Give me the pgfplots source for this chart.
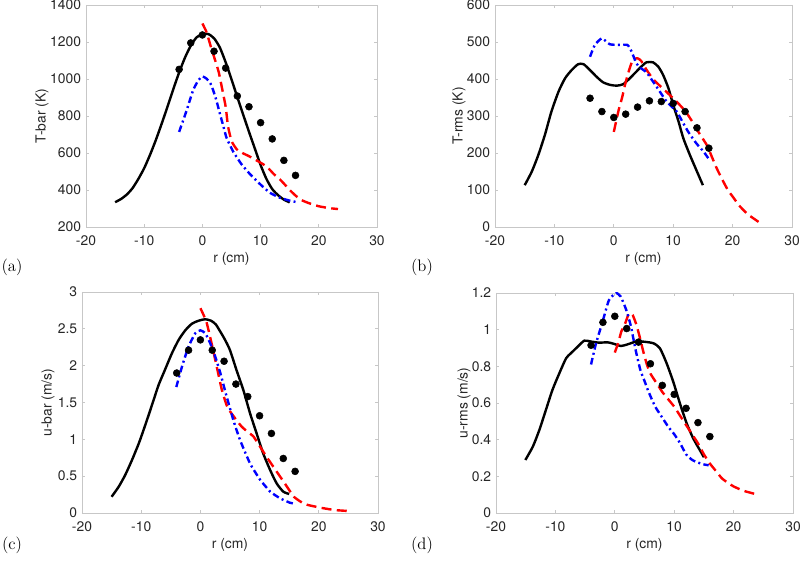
\documentclass[border=0pt]{standalone}
\usepackage{pgfplots}
\pgfplotsset{compat=1.18}
\usepackage{fontspec}
\newfontfamily\hv{TeX Gyre Heros}
\definecolor{axgray}{gray}{0.78}
\definecolor{txtgray}{HTML}{262626}
\pgfplotsset{
  mpanel/.style={
    scale only axis, anchor=south west,
    xmin=-20, xmax=30, xtick={-20,-10,0,10,20,30},
    tick align=inside, major tick length=2.6pt,
    axis line style={axgray, line width=0.5pt},
    tick style={axgray, line width=0.5pt},
    ticklabel style={font=\hv\fontsize{10.4}{12}\selectfont, text=txtgray, inner sep=1pt},
    xticklabel style={yshift=-5pt},
    yticklabel style={xshift=-2.5pt},
    label style={font=\hv\fontsize{10.4}{12}\selectfont, text=txtgray},
    /pgf/number format/assume math mode=true,
    /pgf/number format/1000 sep={},
    xlabel={r (cm)},
    xlabel style={at={(axis description cs:0.5,-0.145)}, anchor=center},
  },
  ylab/.style={ylabel style={at={(axis description cs:#1,0.5)}, anchor=center}},
  sim/.style={black, solid, line width=1.8pt, no marks, smooth, tension=0.4},
  exp/.style={black, only marks, mark=*, mark size=2.6pt},
  les/.style={red, line width=1.8pt, no marks, smooth, tension=0.3, dash pattern=on 7.5pt off 4pt},
  rans/.style={blue, line width=1.8pt, no marks, smooth, tension=0.3, dash pattern=on 5pt off 2.5pt on 1.5pt off 2.5pt},
}
\begin{document}
\begin{tikzpicture}
\useasboundingbox (0,0) rectangle (600pt,424.5pt);

% (a) mean temperature
\begin{axis}[mpanel, at={(64.5pt,254.25pt)}, width=218.25pt, height=166.5pt,
  ymin=200, ymax=1400, ytick={200,400,600,800,1000,1200,1400}, ylabel={T-bar (K)}, ylab=-0.151]
\addplot[sim] coordinates {(-15,334)(-14,351)(-13,375)(-12,410)(-11,460)(-10,518)(-9,590)(-8,670)(-7,758)(-6,850)(-5,945)(-4,1035)(-3,1115)(-2,1180)(-1,1225)(0,1242)(1,1243)(2,1220)(3,1170)(4,1090)(5,998)(6,902)(7,808)(8,715)(9,625)(10,535)(11,460)(12,405)(13,372)(14,348)(15,333)};
\addplot[les] coordinates {(0,1300)(0.7,1254)(1.4,1180)(2,1120)(2.8,1038)(3.5,930)(4,850)(4.4,745)(5,665)(5.9,620)(7,598)(8,583)(9.4,558)(10.5,538)(11.5,512)(12.3,485)(13.3,458)(14.2,428)(15,400)(16,370)(17,346)(18.2,330)(20,312)(21.8,302)(23.3,297)};
\addplot[rans] coordinates {(-4,714)(-2.7,831)(-1.6,939)(-0.7,993)(0,1014)(0.7,1002)(1.4,975)(1.85,939)(2.4,885)(3,813)(3.6,745)(4.15,682)(5.3,607)(6.7,540)(8.2,485)(9.9,432)(11.6,385)(13.4,357)(15.3,340)(16,336)};
\addplot[exp] coordinates {(-4,1052)(-2,1195)(0,1238)(2,1150)(4,1059)(6,908)(8,850)(10,764)(12,676)(14,560)(16,479)};
\end{axis}

% (b) rms temperature
\begin{axis}[mpanel, at={(371.25pt,254.25pt)}, width=222.75pt, height=166.5pt,
  ymin=0, ymax=600, ytick={0,100,200,300,400,500,600}, ylabel={T-rms (K)}, ylab=-0.121]
\addplot[sim] coordinates {(-15,113)(-13.8,150)(-12.7,195)(-11.6,249)(-10.5,312)(-9.3,366)(-8.2,402)(-7.1,424)(-6,440)(-5.1,440)(-4,424)(-2.9,406)(-1.8,391)(-0.6,384)(0.5,382)(1.6,386)(2.7,402)(3.8,420)(4.6,433)(5.5,445)(6.6,445)(7.5,433)(8.3,411)(9.2,375)(10,330)(10.9,285)(11.7,240)(12.8,195)(14,150)(15,113)};
\addplot[les] coordinates {(0,257)(0.8,315)(1.4,350)(1.9,385)(2.5,420)(3.2,452)(4,456)(4.6,449)(5.5,425)(6.7,398)(8,378)(9.4,357)(10.8,335)(12.1,312)(13.2,285)(14.2,258)(15.7,220)(17.2,163)(18.2,130)(19.2,100)(20.2,78)(21.1,58)(22.5,35)(23.9,19)(24.7,10)};
\addplot[rans] coordinates {(-4,460)(-3.2,492)(-2,510)(-0.7,494)(0.8,492)(2.3,492)(3,474)(3.8,442)(4.5,430)(5.5,418)(6.3,400)(7.2,379)(8.9,339)(10.6,312)(11.4,289)(12.5,258)(13.9,226)(15.1,204)(15.9,186)};
\addplot[exp] coordinates {(-4,348)(-2,312)(0,296)(2,305)(4,324)(6,341)(8,339)(10,334)(12,312)(14,268)(16,213)};
\end{axis}

% (c) mean velocity
\begin{axis}[mpanel, at={(61.5pt,39.75pt)}, width=222pt, height=165.75pt,
  ymin=0, ymax=3, ytick={0,0.5,1,1.5,2,2.5,3}, ylabel={u-bar (m/s)}, ylab=-0.115]
\addplot[sim] coordinates {(-15,0.22)(-13.8,0.357)(-12.7,0.516)(-11.55,0.72)(-10.4,0.946)(-9.6,1.127)(-8.74,1.33)(-7.9,1.534)(-7.05,1.74)(-5.9,1.96)(-4.8,2.17)(-3.67,2.35)(-2.55,2.48)(-1.42,2.57)(-0.3,2.61)(0.8,2.63)(1.8,2.61)(2.6,2.56)(3.3,2.47)(4.1,2.36)(5,2.21)(6.1,1.94)(7.25,1.67)(8.4,1.35)(9.5,1.08)(10.6,0.81)(11.8,0.58)(12.9,0.40)(14,0.29)(15,0.258)};
\addplot[les] coordinates {(0,2.78)(1,2.6)(1.9,2.3)(2.75,1.99)(3.6,1.68)(4.4,1.47)(5,1.38)(6.1,1.26)(7,1.17)(8,1.10)(8.95,1.04)(10,0.91)(11.2,0.76)(12.3,0.63)(13.5,0.49)(14.6,0.36)(15.8,0.22)(17,0.15)(18.1,0.11)(20.4,0.07)(22.7,0.04)(25,0.027)};
\addplot[rans] coordinates {(-4.07,1.71)(-3.1,1.99)(-2,2.26)(-0.86,2.44)(0,2.48)(0.83,2.44)(1.68,2.30)(2.52,2.12)(3.37,1.90)(4.3,1.62)(5.57,1.26)(6.7,0.99)(8.4,0.67)(10.1,0.45)(11.8,0.29)(13.45,0.2)(15.1,0.14)(16,0.125)};
\addplot[exp] coordinates {(-4,1.90)(-2,2.21)(0,2.35)(2,2.21)(4,2.06)(6,1.75)(8,1.58)(10,1.32)(12,1.08)(14,0.74)(16,0.565)};
\end{axis}

% (d) rms velocity
\begin{axis}[mpanel, at={(372pt,39.75pt)}, width=222.75pt, height=165pt,
  ymin=0, ymax=1.2, ytick={0,0.2,0.4,0.6,0.8,1,1.2}, ylabel={u-rms (m/s)}, ylab=-0.108]
\addplot[sim] coordinates {(-15.06,0.289)(-13.8,0.362)(-12.7,0.453)(-11.6,0.562)(-10.5,0.671)(-9.34,0.762)(-8.2,0.844)(-7.4,0.871)(-6.25,0.907)(-5.13,0.94)(-4,0.935)(-2.6,0.929)(-1.2,0.931)(-0.08,0.922)(1.04,0.911)(2.17,0.92)(3.57,0.935)(4.7,0.935)(6.48,0.926)(7.6,0.898)(8.72,0.817)(9.84,0.716)(10.96,0.598)(12.1,0.489)(13.2,0.407)(14.3,0.344)(15,0.304)};
\addplot[les] coordinates {(0,0.875)(0.6,0.93)(1.1,0.99)(1.7,1.03)(2.4,1.09)(3.0,1.08)(3.6,1.03)(4.2,0.96)(4.8,0.88)(5.4,0.81)(6,0.76)(7,0.71)(8,0.66)(9,0.62)(10,0.58)(11,0.53)(12,0.48)(13,0.43)(14,0.38)(15,0.32)(16,0.27)(17,0.23)(18,0.19)(19,0.165)(20,0.145)(21,0.13)(22,0.118)(23.7,0.103)};
\addplot[rans] coordinates {(-4,0.81)(-3.2,0.92)(-2,1.05)(-1,1.16)(0.2,1.2)(1,1.18)(1.9,1.11)(2.7,1.02)(3.5,0.89)(4.3,0.78)(5,0.72)(5.7,0.66)(6.8,0.58)(8,0.52)(9,0.47)(10,0.43)(11,0.38)(12,0.32)(13,0.29)(14,0.275)(15,0.265)(15.8,0.26)};
\addplot[exp] coordinates {(-4,0.915)(-2,1.04)(0,1.073)(2,1.006)(4,0.932)(6,0.814)(8,0.696)(10,0.647)(12,0.571)(14,0.493)(16,0.417)};
\end{axis}

\node[font=\fontsize{12.5}{14}\selectfont] at (9pt,224.25pt) {(a)};
\node[font=\fontsize{12.5}{14}\selectfont] at (316.5pt,224.25pt) {(b)};
\node[font=\fontsize{12.5}{14}\selectfont] at (9pt,15.75pt) {(c)};
\node[font=\fontsize{12.5}{14}\selectfont] at (316.5pt,15.75pt) {(d)};
\end{tikzpicture}
\end{document}
